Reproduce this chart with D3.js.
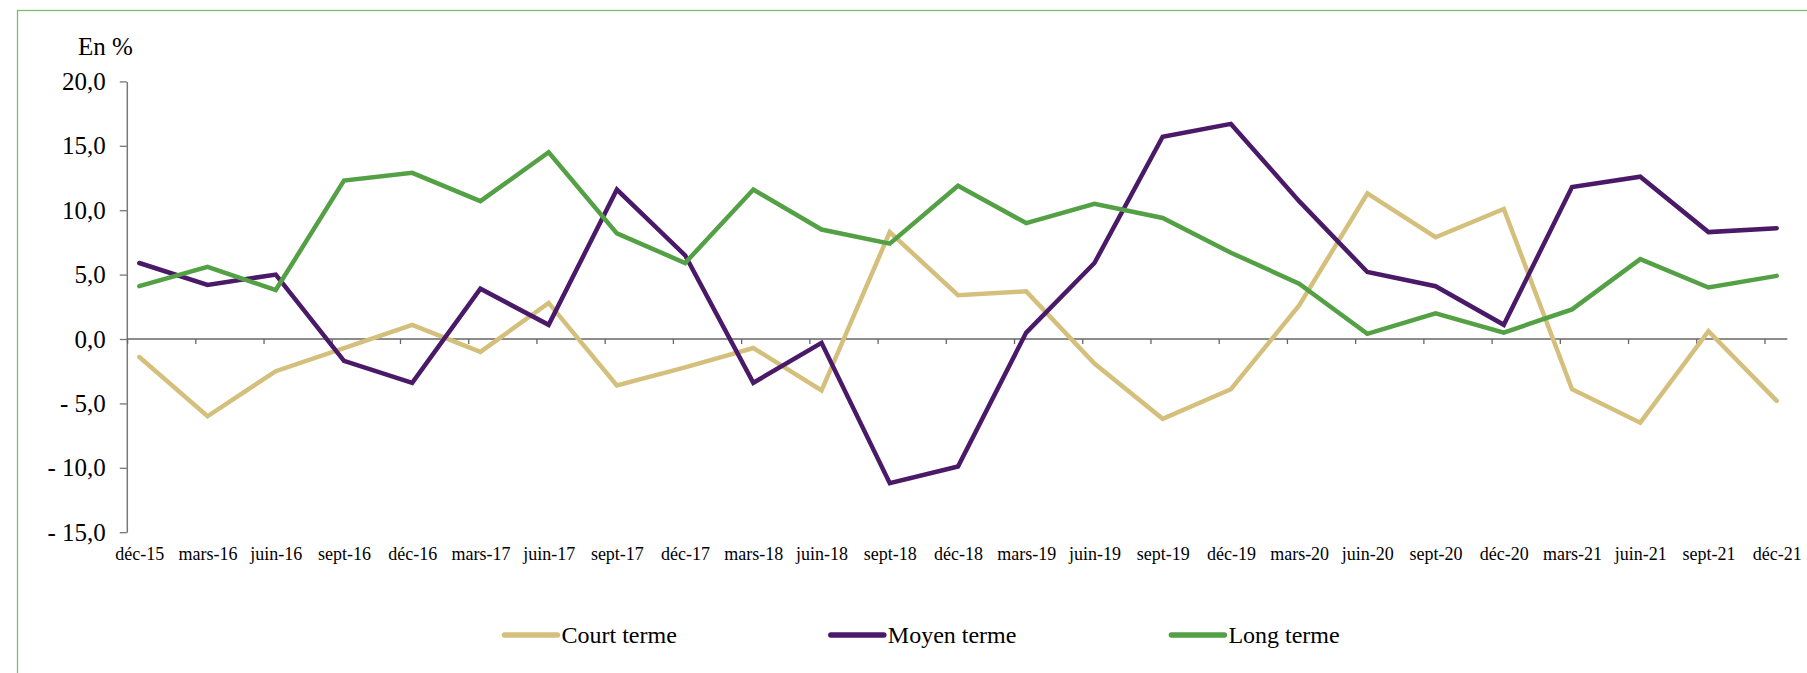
<!DOCTYPE html>
<html>
<head>
<meta charset="utf-8">
<script src="https://cdn.jsdelivr.net/npm/d3@7"></script>
<style>
  body { margin: 0; background: #fff; }
  svg { display: block; font-family: "Liberation Serif", "Times New Roman", serif; }
</style>
</head>
<body>
<div id="chart"></div>
<script>
// data
const categories = ["déc-15", "mars-16", "juin-16", "sept-16", "déc-16", "mars-17", "juin-17",
  "sept-17", "déc-17", "mars-18", "juin-18", "sept-18", "déc-18", "mars-19", "juin-19",
  "sept-19", "déc-19", "mars-20", "juin-20", "sept-20", "déc-20", "mars-21", "juin-21",
  "sept-21", "déc-21"];

const courtTerme = [-1.4, -6.0, -2.5, -0.7, 1.1, -1.0, 2.8, -3.6, -2.2, -0.7, -4.0, 8.3, 3.4,
  3.7, -1.9, -6.2, -3.9, 2.6, 11.3, 7.9, 10.1, -3.9, -6.5, 0.6, -4.8];
const moyenTerme = [5.9, 4.2, 5.0, -1.7, -3.4, 3.9, 1.1, 11.6, 6.5, -3.4, -0.3, -11.2, -9.9,
  0.5, 5.9, 15.7, 16.7, 10.7, 5.2, 4.1, 1.1, 11.8, 12.6, 8.3, 8.6];
const longTerme = [4.1, 5.6, 3.8, 12.3, 12.9, 10.7, 14.5, 8.2, 5.9, 11.6, 8.5, 7.4, 11.9,
  9.0, 10.5, 9.4, 6.7, 4.3, 0.4, 2.0, 0.5, 2.3, 6.2, 4.0, 4.9];

const yTicks = [20, 15, 10, 5, 0, -5, -10, -15];
const seriesNames = ["Court terme", "Moyen terme", "Long terme"];
const seriesColors = ["#d4c07c", "#4a1a68", "#53a045"];

const width = 1807, height = 673;

const svg = d3.select("#chart").append("svg")
  .attr("width", width)
  .attr("height", height);

// outer frame (runs off the right and bottom of the picture)
svg.append("rect")
  .attr("x", 17.5).attr("y", 10.5)
  .attr("width", width).attr("height", height)
  .attr("fill", "none")
  .attr("stroke", "#7dbd6a")
  .attr("stroke-width", 1.3);

const x = d3.scalePoint().domain(categories).range([139.3, 1776.7]);
const y = d3.scaleLinear().domain([-15, 20]).range([532.2, 81.4]);
const axisLeftX = 126.8;
const tickShift = 12.2;

// y axis
const yAxis = d3.axisLeft(y)
  .tickValues(yTicks)
  .tickSize(7)
  .tickSizeOuter(0)
  .tickPadding(14)
  .tickFormat(d => (d < 0 ? "- " + (-d) : "" + d) + ",0");

const gy = svg.append("g")
  .attr("transform", `translate(${axisLeftX},0)`)
  .call(yAxis);
gy.select(".domain").attr("stroke", "#777").attr("stroke-width", 1.5);
gy.selectAll(".tick line").attr("stroke", "#777").attr("stroke-width", 1.3);
gy.selectAll("text").attr("font-size", 25).attr("fill", "#000")
  .style("font-family", "'Liberation Serif', 'Times New Roman', serif");

// zero line with tick marks offset from the points
const tickPos = d3.scaleLinear().domain([0, categories.length - 1])
  .range([x(categories[0]) - tickShift, x(categories[categories.length - 1]) - tickShift]);

const gx = svg.append("g")
  .attr("transform", `translate(0,${y(0)})`)
  .call(d3.axisBottom(tickPos)
    .tickValues(d3.range(categories.length))
    .tickSize(5)
    .tickSizeOuter(0)
    .tickFormat(""));
gx.select(".domain").remove();
gx.selectAll(".tick line").attr("stroke", "#666").attr("stroke-width", 1.3);
gx.append("line")
  .attr("x1", axisLeftX).attr("x2", x(categories[categories.length - 1]) + 10.6)
  .attr("stroke", "#666").attr("stroke-width", 1.5);

// category labels below the plot
const gl = svg.append("g")
  .attr("transform", `translate(0,${y(-15)})`)
  .call(d3.axisBottom(x).tickSize(0).tickPadding(15));
gl.select(".domain").remove();
gl.selectAll("text").attr("font-size", 18).attr("fill", "#000")
  .style("font-family", "'Liberation Serif', 'Times New Roman', serif");

// unit label
svg.append("text")
  .attr("x", 78).attr("y", 55)
  .attr("font-size", 25)
  .text("En %");

// lines
const line = d3.line()
  .x((d, i) => x(categories[i]))
  .y(d => y(d));

[courtTerme, moyenTerme, longTerme].forEach((s, k) => {
  svg.append("path")
    .datum(s)
    .attr("fill", "none")
    .attr("stroke", seriesColors[k])
    .attr("stroke-width", 4.5)
    .attr("stroke-linejoin", "miter")
    .attr("stroke-linecap", "round")
    .attr("d", line);
});

// legend
const legendX = [504.5, 830.8, 1171.4];
const legend = svg.append("g");
seriesNames.forEach((name, k) => {
  legend.append("line")
    .attr("x1", legendX[k]).attr("x2", legendX[k] + 53)
    .attr("y1", 635).attr("y2", 635)
    .attr("stroke", seriesColors[k])
    .attr("stroke-width", 5.5)
    .attr("stroke-linecap", "round");
  legend.append("text")
    .attr("x", legendX[k] + 57).attr("y", 643)
    .attr("font-size", 24)
    .text(name);
});
</script>
</body>
</html>
